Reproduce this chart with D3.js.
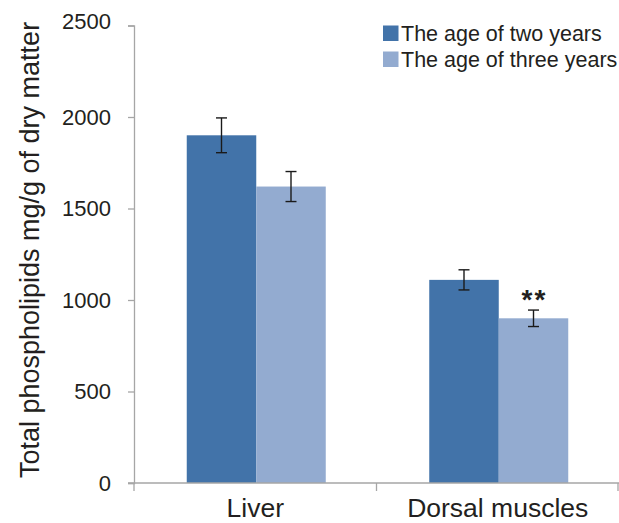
<!DOCTYPE html>
<html>
<head>
<meta charset="utf-8">
<script src="https://cdn.jsdelivr.net/npm/d3@7"></script>
<style>
  html, body { margin: 0; padding: 0; background: #fff; }
  svg { display: block; font-family: "Liberation Sans", Arial, sans-serif; }
</style>
</head>
<body>
<svg id="chart" width="619" height="523"></svg>
<script>
// Total phospholipids by tissue and age group
const categories = ["Liver", "Dorsal muscles"];
const seriesNames = ["The age of two years", "The age of three years"];
const twoYears = [1900, 1110];
const threeYears = [1620, 900];
const twoYearsErr = [95, 55];
const threeYearsErr = [82, 45];
const significance = ["", "**"];
const yTicks = [0, 500, 1000, 1500, 2000, 2500];

const colors = ["#4273a9", "#93abd0"];
const textColor = "#231f20";
const axisColor = "#a6a6a6";

const svg = d3.select("#chart");
const plotLeft = 134, plotRight = 619, plotTop = 25.5, plotBottom = 483;

const x0 = d3.scaleBand().domain(categories).range([plotLeft, plotRight]).padding(0);
const groupWidth = 139;
const groupOffset = (x0.bandwidth() - groupWidth) / 2 + 1;
const x1 = d3.scaleBand().domain([0, 1]).range([groupOffset, groupOffset + groupWidth]).padding(0);
const y = d3.scaleLinear().domain([0, 2500]).range([plotBottom, plotTop]);

const rows = categories.map((c, i) => ({
  cat: c,
  vals: [
    { s: 0, v: twoYears[i], e: twoYearsErr[i] },
    { s: 1, v: threeYears[i], e: threeYearsErr[i] }
  ],
  sig: significance[i]
}));

// y axis
const yAxis = svg.append("g").attr("transform", `translate(${plotLeft},0)`)
  .call(d3.axisLeft(y).tickValues(yTicks).tickSize(6).tickPadding(17).tickFormat(d3.format("d")));
yAxis.select(".domain").attr("stroke", axisColor).attr("stroke-width", 1.3);
yAxis.selectAll(".tick line").attr("stroke", axisColor).attr("stroke-width", 1.3);
yAxis.selectAll(".tick text").attr("fill", textColor).style("font-size", "22px");
// the top label sits slightly above its tick
yAxis.selectAll(".tick text").filter(d => d === d3.max(yTicks)).attr("y", -4);

// bars
const groups = svg.append("g").selectAll("g").data(rows).join("g")
  .attr("transform", d => `translate(${x0(d.cat)},0)`);

groups.selectAll("rect").data(d => d.vals).join("rect")
  .attr("x", d => x1(d.s))
  .attr("width", x1.bandwidth())
  .attr("y", d => y(d.v))
  .attr("height", d => y(0) - y(d.v))
  .attr("fill", d => colors[d.s]);

// error bars
const cx = d => x1(d.s) + x1.bandwidth() / 2;
const eb = groups.selectAll("g.err").data(d => d.vals).join("g").attr("class", "err")
  .attr("stroke", "#1a1a1a").attr("stroke-width", 1.4);
eb.append("line")
  .attr("x1", cx).attr("x2", cx)
  .attr("y1", d => y(d.v + d.e)).attr("y2", d => y(d.v - d.e));
eb.append("line")
  .attr("x1", d => cx(d) - 5.5).attr("x2", d => cx(d) + 5.5)
  .attr("y1", d => y(d.v + d.e)).attr("y2", d => y(d.v + d.e));
eb.append("line")
  .attr("x1", d => cx(d) - 5.5).attr("x2", d => cx(d) + 5.5)
  .attr("y1", d => y(d.v - d.e)).attr("y2", d => y(d.v - d.e));

// significance marks
groups.append("text")
  .attr("x", x1(1) + x1.bandwidth() / 2 + 1)
  .attr("y", d => y(d.vals[1].v + d.vals[1].e) - 1)
  .attr("text-anchor", "middle")
  .attr("fill", textColor)
  .style("font-size", "28px").style("font-weight", "bold")
  .style("letter-spacing", "2px")
  .text(d => d.sig);

// x axis
const xAxis = svg.append("g").attr("transform", `translate(0,${plotBottom})`);
xAxis.append("line").attr("x1", plotLeft - 6).attr("x2", plotRight)
  .attr("stroke", axisColor).attr("stroke-width", 1.3);
const bounds = [plotLeft].concat(categories.map(c => x0(c) + x0.bandwidth()));
xAxis.selectAll("line.tk").data(bounds).join("line").attr("class", "tk")
  .attr("x1", d => Math.min(d, plotRight - 1)).attr("x2", d => Math.min(d, plotRight - 1))
  .attr("y1", 0).attr("y2", 8)
  .attr("stroke", axisColor).attr("stroke-width", 1.3);
xAxis.selectAll("text").data(categories).join("text")
  .attr("x", d => x0(d) + x0.bandwidth() / 2)
  .attr("y", 34)
  .attr("text-anchor", "middle")
  .attr("fill", textColor)
  .style("font-size", "26.5px")
  .text(d => d);

// y axis title
svg.append("text")
  .attr("transform", `translate(39,${(plotBottom + 17) / 2}) rotate(-90)`)
  .attr("text-anchor", "middle")
  .attr("fill", textColor)
  .style("font-size", "27px")
  .text("Total phospholipids mg/g of dry matter");

// legend
const legend = svg.append("g").attr("transform", "translate(383,25)");
const li = legend.selectAll("g").data(seriesNames).join("g")
  .attr("transform", (d, i) => `translate(0,${i * 26})`);
li.append("rect").attr("width", 15.5).attr("height", 15.5).attr("y", 0.5)
  .attr("fill", (d, i) => colors[i]);
li.append("text").attr("x", 18).attr("y", 8).attr("dy", "0.35em")
  .attr("fill", textColor).style("font-size", "21.5px").text(d => d);
</script>
</body>
</html>
